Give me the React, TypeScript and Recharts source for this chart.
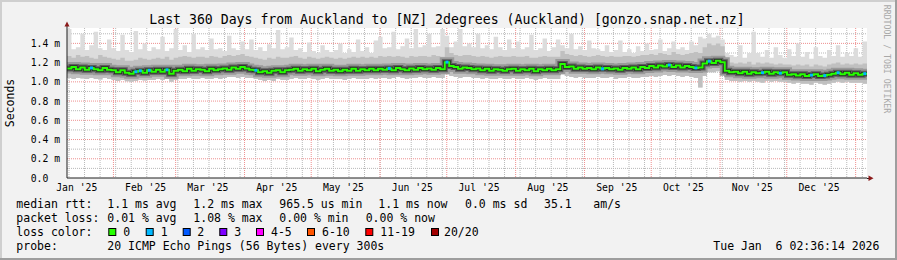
import React from 'react';
import { ComposedChart, Area, Line, Scatter, XAxis, YAxis, CartesianGrid } from 'recharts';

// ---- time frame ----
const START = Date.UTC(2025, 0, 11, 2, 36, 14);
const DAY = 86400000;
const SPAN_DAYS = 360;
const BIN_DAYS = 2;

const monthStarts: [number, number][] = [
  [2025, 0], [2025, 1], [2025, 2], [2025, 3], [2025, 4], [2025, 5],
  [2025, 6], [2025, 7], [2025, 8], [2025, 9], [2025, 10], [2025, 11], [2026, 0],
];
const monthLabels = ["Jan '25", "Feb '25", "Mar '25", "Apr '25", "May '25", "Jun '25",
  "Jul '25", "Aug '25", "Sep '25", "Oct '25", "Nov '25", "Dec '25"];
const firstGridSunday: [number, number, number] = [2025, 0, 12];

// ---- series (ms), one value per 2-day bin ----
const medianRtt = [
  1.14, 1.155, 1.13, 1.15, 1.125, 1.145, 1.13, 1.12, 1.145, 1.125,
  1.12, 1.10, 1.12, 1.095, 1.085, 1.105, 1.115, 1.095, 1.12, 1.105,
  1.125, 1.105, 1.125, 1.085, 1.115, 1.125, 1.11, 1.135, 1.115, 1.13,
  1.125, 1.11, 1.135, 1.12, 1.13, 1.14, 1.125, 1.15, 1.135, 1.155,
  1.14, 1.125, 1.12, 1.10, 1.11, 1.095, 1.115, 1.12, 1.10, 1.12,
  1.125, 1.135, 1.115, 1.13, 1.12, 1.135, 1.11, 1.125, 1.135, 1.115,
  1.125, 1.11, 1.125, 1.115, 1.135, 1.115, 1.13, 1.12, 1.135, 1.12,
  1.135, 1.125, 1.14, 1.12, 1.145, 1.13, 1.12, 1.14, 1.125, 1.145,
  1.13, 1.14, 1.125, 1.145, 1.13, 1.205, 1.165, 1.155, 1.135, 1.15,
  1.145, 1.13, 1.14, 1.12, 1.135, 1.115, 1.13, 1.125, 1.115, 1.13,
  1.135, 1.115, 1.13, 1.12, 1.135, 1.11, 1.13, 1.12, 1.135, 1.12,
  1.13, 1.185, 1.155, 1.16, 1.135, 1.15, 1.135, 1.145, 1.13, 1.15,
  1.135, 1.145, 1.13, 1.14, 1.125, 1.145, 1.135, 1.15, 1.13, 1.155,
  1.145, 1.165, 1.15, 1.17, 1.16, 1.175, 1.155, 1.17, 1.15, 1.165,
  1.155, 1.145, 1.15, 1.19, 1.215, 1.195, 1.22, 1.205, 1.115, 1.10,
  1.105, 1.09, 1.105, 1.085, 1.10, 1.09, 1.095, 1.105, 1.085, 1.10,
  1.09, 1.10, 1.075, 1.08, 1.065, 1.08, 1.06, 1.07, 1.08, 1.06,
  1.065, 1.075, 1.085, 1.095, 1.08, 1.095, 1.075, 1.09, 1.075, 1.085,
];
const minRtt = [
  1.04, 1.03, 1.04, 1.035, 1.03, 1.04, 1.03, 1.025, 1.04, 1.03,
  1.02, 1.01, 1.02, 1.005, 1.00, 1.01, 1.02, 1.015, 1.02, 1.02,
  1.03, 1.02, 1.03, 1.00, 1.02, 1.03, 1.03, 1.04, 1.03, 1.03,
  1.04, 1.03, 1.03, 1.04, 1.03, 1.04, 1.05, 1.05, 1.04, 1.05,
  1.04, 1.04, 1.03, 1.02, 1.01, 1.02, 1.01, 1.03, 1.02, 1.02,
  1.03, 1.04, 1.03, 1.03, 1.04, 1.03, 1.02, 1.03, 1.04, 1.03,
  1.03, 1.03, 1.02, 1.03, 1.04, 1.03, 1.03, 1.03, 1.04, 1.03,
  1.04, 1.04, 1.03, 1.04, 1.05, 1.04, 1.03, 1.04, 1.04, 1.05,
  1.04, 1.04, 1.05, 1.04, 1.04, 1.08, 1.06, 1.05, 1.04, 1.05,
  1.05, 1.04, 1.04, 1.03, 1.04, 1.03, 1.03, 1.04, 1.03, 1.03,
  1.04, 1.03, 1.03, 1.04, 1.03, 1.02, 1.03, 1.04, 1.03, 1.03,
  1.03, 1.08, 1.06, 1.05, 1.04, 1.05, 1.04, 1.04, 1.04, 1.05,
  1.04, 1.04, 1.05, 1.03, 1.04, 1.04, 1.05, 1.04, 1.04, 1.05,
  1.05, 1.06, 1.05, 1.06, 1.07, 1.06, 1.07, 1.06, 1.05, 1.06,
  1.05, 1.04, 0.94, 1.06, 1.10, 1.10, 1.11, 1.10, 1.02, 1.01,
  1.01, 1.00, 1.01, 1.00, 1.01, 1.00, 0.99, 1.01, 1.00, 1.01,
  1.00, 1.00, 0.99, 0.98, 0.99, 0.98, 0.98, 0.97, 0.99, 0.98,
  0.97, 0.98, 0.99, 1.00, 0.99, 1.00, 0.99, 0.99, 0.99, 0.98,
];
const upperSmoke = [
  1.27, 1.25, 1.28, 1.26, 1.27, 1.25, 1.24, 1.28, 1.26, 1.25,
  1.24, 1.23, 1.25, 1.22, 1.22, 1.23, 1.25, 1.24, 1.23, 1.24,
  1.25, 1.24, 1.26, 1.23, 1.25, 1.26, 1.27, 1.26, 1.25, 1.26,
  1.26, 1.25, 1.27, 1.26, 1.25, 1.27, 1.28, 1.27, 1.28, 1.29,
  1.27, 1.26, 1.25, 1.24, 1.23, 1.25, 1.24, 1.26, 1.25, 1.25,
  1.26, 1.27, 1.25, 1.24, 1.26, 1.25, 1.24, 1.25, 1.26, 1.25,
  1.24, 1.25, 1.24, 1.25, 1.26, 1.25, 1.26, 1.25, 1.26, 1.25,
  1.27, 1.26, 1.27, 1.26, 1.27, 1.26, 1.25, 1.27, 1.26, 1.27,
  1.27, 1.26, 1.28, 1.27, 1.26, 1.36, 1.30, 1.28, 1.27, 1.28,
  1.28, 1.27, 1.26, 1.27, 1.26, 1.25, 1.26, 1.27, 1.26, 1.26,
  1.27, 1.26, 1.26, 1.27, 1.25, 1.25, 1.26, 1.27, 1.26, 1.26,
  1.26, 1.32, 1.29, 1.28, 1.27, 1.28, 1.27, 1.26, 1.27, 1.28,
  1.27, 1.26, 1.27, 1.26, 1.26, 1.27, 1.27, 1.26, 1.27, 1.28,
  1.28, 1.29, 1.28, 1.30, 1.29, 1.28, 1.31, 1.29, 1.28, 1.29,
  1.30, 1.31, 1.30, 1.36, 1.40, 1.38, 1.40, 1.37, 1.22, 1.20,
  1.19, 1.20, 1.19, 1.21, 1.18, 1.20, 1.19, 1.20, 1.19, 1.18,
  1.19, 1.18, 1.18, 1.17, 1.18, 1.17, 1.18, 1.16, 1.18, 1.17,
  1.16, 1.18, 1.19, 1.20, 1.18, 1.19, 1.18, 1.19, 1.18, 1.19,
];
const maxRtt = [
  1.55, 1.34, 1.36, 1.50, 1.33, 1.38, 1.52, 1.35, 1.33, 1.44,
  1.35, 1.32, 1.49, 1.33, 1.31, 1.53, 1.34, 1.40, 1.32, 1.36,
  1.34, 1.47, 1.32, 1.35, 1.55, 1.33, 1.38, 1.31, 1.50, 1.34,
  1.36, 1.33, 1.45, 1.34, 1.35, 1.32, 1.48, 1.35, 1.33, 1.42,
  1.34, 1.44, 1.33, 1.36, 1.32, 1.39, 1.35, 1.54, 1.34, 1.36,
  1.46, 1.33, 1.35, 1.31, 1.41, 1.32, 1.30, 1.38, 1.33, 1.31,
  1.33, 1.40, 1.30, 1.34, 1.31, 1.44, 1.32, 1.36, 1.30, 1.43,
  1.47, 1.35, 1.36, 1.52, 1.34, 1.37, 1.45, 1.35, 1.55, 1.36,
  1.38, 1.50, 1.36, 1.37, 1.55, 1.48, 1.36, 1.42, 1.55, 1.37,
  1.40, 1.36, 1.50, 1.35, 1.38, 1.34, 1.47, 1.36, 1.33, 1.44,
  1.35, 1.42, 1.34, 1.36, 1.49, 1.33, 1.35, 1.45, 1.32, 1.36,
  1.44, 1.38, 1.35, 1.50, 1.34, 1.37, 1.33, 1.43, 1.35, 1.34,
  1.32, 1.38, 1.31, 1.33, 1.43, 1.31, 1.34, 1.30, 1.37, 1.32,
  1.40, 1.33, 1.34, 1.44, 1.32, 1.35, 1.42, 1.34, 1.36, 1.33,
  1.42, 1.38, 1.47, 1.45, 1.50, 1.46, 1.48, 1.44, 1.30, 1.28,
  1.26, 1.38, 1.25, 1.30, 1.52, 1.30, 1.26, 1.33, 1.25, 1.36,
  1.28, 1.25, 1.34, 1.27, 1.40, 1.26, 1.31, 1.24, 1.36, 1.27,
  1.25, 1.33, 1.27, 1.38, 1.26, 1.30, 1.27, 1.35, 1.26, 1.42,
];
// bins whose median was drawn in the "1 lost" colour
const lossOneBins = [5, 15, 16, 18, 22, 42, 72, 85, 120, 135, 141, 144, 156, 160, 167, 170, 173, 179];

const yTicks = [0, 0.2, 0.4, 0.6, 0.8, 1.0, 1.2, 1.4];
const yMinor = [0.1, 0.3, 0.5, 0.7, 0.9, 1.1, 1.3, 1.5];
const Y_MAX = 1.56;

const lossLegend: [string, string][] = [
  ['#26ff00', '0'], ['#00b8ff', '1'], ['#0059ff', '2'], ['#7e00ff', '3'],
  ['#ff00ff', '4-5'], ['#ff5500', '6-10'], ['#ff0000', '11-19'], ['#a10000', '20/20'],
];

// ---- derived tables ----
const dayOffset = (y: number, m: number, d: number) => (Date.UTC(y, m, d) - START) / DAY;

const table = medianRtt.map((m, i) => ({
  t: i * BIN_DAYS, med: m, lo: minRtt[i], mid: upperSmoke[i], hi: maxRtt[i],
}));
table.push({ ...table[table.length - 1], t: SPAN_DAYS });

const lossPoints = lossOneBins.map((i) => ({ t: i * BIN_DAYS + BIN_DAYS / 2, med: medianRtt[i] }));

const monthGrid = monthStarts.map(([y, m]) => dayOffset(y, m, 1)).filter((v) => v > 0 && v < SPAN_DAYS);
const labelTicks = monthLabels.map((_, i) => dayOffset(monthStarts[i][0], monthStarts[i][1], 1) + 14.5);
const weekGrid: number[] = [];
for (let v = dayOffset(...firstGridSunday); v < SPAN_DAYS; v += 7) weekGrid.push(v);

const MONO = "'DejaVu Sans Mono', monospace";

const XTick = (p: any) => {
  const idx = labelTicks.findIndex((v) => Math.abs(v - p.payload.value) < 1e-6);
  return (
    <text x={p.x} y={p.y + 12.7} textAnchor="middle" fontFamily={MONO} fontSize={9.75} fill="#000">
      {idx >= 0 ? monthLabels[idx] : ''}
    </text>
  );
};
const YTick = (p: any) => {
  const v = p.payload.value as number;
  return (
    <text x={p.x - 36.3} y={p.y + 3.5} textAnchor="start" fontFamily={MONO} fontSize={9.75} fill="#000">
      {v === 0 ? '0.0' : `${v.toFixed(1)} m`}
    </text>
  );
};

const LossMark = (p: any) => (
  <rect x={p.cx - 1.5} y={p.cy - 1.5} width={3} height={3} fill="#00b8ff" />
);

const legendRows: { y: number; parts: [number, string][] }[] = [
  { y: 208.4, parts: [[16.3, 'median rtt:'], [107.3, '1.1 ms avg'], [193.3, '1.2 ms max'], [279.3, '965.5 us min'], [378.3, '1.1 ms now'], [465, '0.0 ms sd'], [544, '35.1'], [593.3, 'am/s']] },
  { y: 222.1, parts: [[16.3, 'packet loss:'], [107.3, '0.01 % avg'], [193.3, '1.08 % max'], [279.3, '0.00 % min'], [365.7, '0.00 % now']] },
  { y: 235.8, parts: [[16.3, 'loss color:']] },
  { y: 249.5, parts: [[16.3, 'probe:'], [107.3, '20 ICMP Echo Pings (56 Bytes) every 300s'], [713.3, 'Tue Jan  6 02:36:14 2026']] },
];
const swatchX = [108.3, 145.7, 182.7, 219.3, 256, 307, 365.3, 431];
const swatchLabelX = [123.3, 160.7, 197.3, 234.3, 271, 322, 380.3, 444];

export default function App() {
  return (
    <div style={{ position: 'absolute', left: 0, top: 0, width: 897, height: 260, background: '#f2f2f2', overflow: 'hidden' }}>
      <ComposedChart width={897} height={260} data={table} margin={{ top: 28, right: 30, bottom: 0, left: 0 }}>
        <CartesianGrid horizontal={false} vertical={false} fill="#ffffff" />
        <XAxis
          dataKey="t" type="number" domain={[0, SPAN_DAYS]} ticks={labelTicks} interval={0}
          allowDataOverflow height={82} tickSize={0} tickMargin={0} tick={<XTick />}
          axisLine={{ stroke: '#1f1f1f', strokeWidth: 1 }} tickLine={false}
        />
        <YAxis
          type="number" domain={[0, Y_MAX]} ticks={yTicks} interval={0} allowDataOverflow
          width={67} tickSize={0} tickMargin={0} tick={<YTick />}
          axisLine={{ stroke: '#1f1f1f', strokeWidth: 1 }} tickLine={false}
        />
        <Area type="stepAfter" dataKey={(d: any) => [d.lo, d.hi]} fill="#dcdcdc" fillOpacity={1} stroke="none" isAnimationActive={false} />
        <Area type="stepAfter" dataKey={(d: any) => [d.lo, d.mid]} fill="#c0c0c0" fillOpacity={1} stroke="none" isAnimationActive={false} />
        <CartesianGrid horizontalValues={yMinor} verticalValues={weekGrid} stroke="#b8b8b8" strokeDasharray="1 1" />
        <CartesianGrid horizontalValues={yTicks.filter((v) => v > 0)} verticalValues={monthGrid} stroke="#ee8f8f" strokeDasharray="1 1" />
        <Line type="stepAfter" dataKey="med" stroke="#9a9a9a" strokeWidth={10} dot={false} isAnimationActive={false} />
        <Line type="stepAfter" dataKey="med" stroke="#5e5e5e" strokeWidth={6} dot={false} isAnimationActive={false} />
        <Line type="stepAfter" dataKey="med" stroke="#262626" strokeWidth={3.5} dot={false} isAnimationActive={false} />
        <Line type="stepAfter" dataKey="med" stroke="#26ff00" strokeWidth={2} dot={false} isAnimationActive={false} />
        <Scatter data={lossPoints} dataKey="med" shape={<LossMark />} isAnimationActive={false} />
      </ComposedChart>
      <svg width={897} height={260} style={{ position: 'absolute', left: 0, top: 0, pointerEvents: 'none' }}>
        {/* frame shading */}
        <rect x={0} y={0} width={897} height={2} fill="#cfcfcf" />
        <rect x={0} y={0} width={2} height={260} fill="#cfcfcf" />
        <rect x={895} y={0} width={2} height={260} fill="#9e9e9e" />
        <rect x={0} y={258} width={897} height={2} fill="#9e9e9e" />
        {/* axis arrows */}
        <line x1={67} y1={28} x2={67} y2={25} stroke="#1f1f1f" strokeWidth={1} />
        <polygon points="64.5,26.5 69.5,26.5 67,21.5" fill="#8b1a1a" />
        <line x1={867} y1={178.5} x2={870} y2={178.5} stroke="#1f1f1f" strokeWidth={1} />
        <polygon points="868.5,175.5 868.5,181 873.5,178.3" fill="#8b1a1a" />
        {/* title */}
        <text x={447} y={23.7} textAnchor="middle" fontFamily={MONO} fontSize={13.2} fill="#000">
          Last 360 Days from Auckland to [NZ] 2degrees (Auckland) [gonzo.snap.net.nz]
        </text>
        {/* vertical label */}
        <text transform="translate(14,103) rotate(-90)" textAnchor="middle" fontFamily={MONO} fontSize={11.5} fill="#000">
          Seconds
        </text>
        <text transform="translate(884.3,59) rotate(90)" textAnchor="middle" fontFamily={MONO} fontSize={8.2} fill="#a8a8a8">
          RRDTOOL / TOBI OETIKER
        </text>
        {/* legend */}
        {legendRows.map((r, ri) =>
          r.parts.map(([x, s], pi) => (
            <text key={`${ri}-${pi}`} x={x} y={r.y} fontFamily={MONO} fontSize={11.5} fill="#000" style={{ whiteSpace: 'pre' }}>
              {s}
            </text>
          ))
        )}
        {lossLegend.map(([c, l], i) => (
          <g key={l}>
            <rect x={swatchX[i] + 0.5} y={228.5} width={7} height={7} fill={c} stroke="#000" strokeWidth={1} />
            <text x={swatchLabelX[i]} y={235.8} fontFamily={MONO} fontSize={11.5} fill="#000">{l}</text>
          </g>
        ))}
      </svg>
    </div>
  );
}
